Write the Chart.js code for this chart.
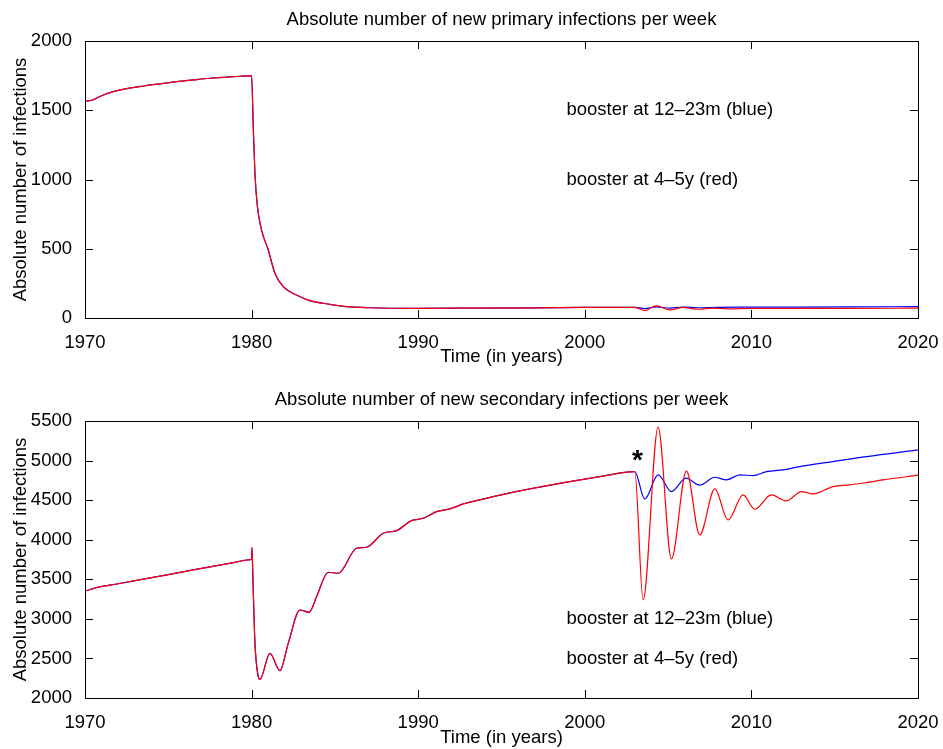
<!DOCTYPE html>
<html>
<head>
<meta charset="utf-8">
<title>Absolute number of new infections per week</title>
<script src="https://cdn.jsdelivr.net/npm/chart.js@4.4.0/dist/chart.umd.min.js"></script>
<style>
  html, body { margin: 0; padding: 0; background: #fff; }
  #page { position: relative; width: 943px; height: 749px; }
  .panel { position: absolute; left: 0; width: 943px; }
  #panel-primary { top: 0; height: 372px; }
  #panel-secondary { top: 372px; height: 377px; }
</style>
</head>
<body>
<div id="page">
  <div class="panel" id="panel-primary"><canvas id="primaryChart" width="943" height="372"></canvas></div>
  <div class="panel" id="panel-secondary"><canvas id="secondaryChart" width="943" height="377"></canvas></div>
</div>
<script>
const FONT = '"Liberation Sans", Arial, Helvetica, sans-serif';
const FONT_SIZE = 18.5;

// Tick labels
const yearTicks = [1970, 1980, 1990, 2000, 2010, 2020];
const primaryTicks = [0, 500, 1000, 1500, 2000];
const secondaryTicks = [2000, 2500, 3000, 3500, 4000, 4500, 5000, 5500];

// Primary infections, same for both schedules up to 2003
const primaryYears = [1970, 1970.4, 1971, 1971.7, 1972.5, 1973.5, 1974.5, 1975.5, 1976.5, 1977.5, 1978.7, 1979.5, 1980,
  1980.1, 1980.2, 1980.35, 1980.6, 1981, 1981.4, 1981.9, 1982.7, 1983.5, 1984.7, 1985.7, 1987.1, 1989.7,
  1993, 1997, 2000, 2003];
const primaryValues = [1566, 1572, 1605, 1634, 1656, 1675, 1691, 1706, 1719, 1731, 1741, 1746, 1750,
  1381, 1045, 804, 635, 491, 323, 226, 166, 125, 99, 82, 74, 70,
  71, 73, 76, 77];

// Primary infections after the 2003 change
const primaryBlueYears = [2003.6, 2004.3, 2005.1, 2005.9, 2006.8, 2008, 2010, 2013, 2016, 2020];
const primaryBlue = [68, 80, 72, 79, 74, 77, 78, 79, 80, 82];
const primaryRedYears = [2003.6, 2004.3, 2005.1, 2005.9, 2006.8, 2007.7, 2008.6, 2010, 2013, 2016, 2020];
const primaryRed = [53, 87, 58, 77, 63, 72, 66, 69, 70, 70, 71];

// Secondary infections, same for both schedules up to 2003
const secondaryYears = [1970, 1970.8, 1972, 1973.5, 1975, 1976.5, 1978, 1979, 1979.8, 1980, 1980.02, 1980.08,
  1980.2, 1980.38, 1980.5, 1981.1, 1981.7, 1982.2, 1982.9, 1983.46, 1983.9, 1984.6, 1985.2, 1986.3, 1986.9,
  1987.9, 1988.7, 1989.6, 1990.3, 1991.1, 1991.9, 1992.7, 1993.7, 1994.7, 1996.7, 2000.9, 2003];
const secondaryValues = [3350, 3400, 3444, 3502, 3560, 3618, 3676, 3714, 3745, 3753, 3900, 3500,
  2700, 2290, 2236, 2565, 2345, 2691, 3112, 3083, 3281, 3589, 3576, 3892, 3905,
  4082, 4115, 4241, 4271, 4355, 4389, 4452, 4503, 4553, 4642, 4797, 4860];

// Secondary infections after the 2003 change
const secondaryBlueYears = [2003.6, 2004.4, 2005.2, 2006.07, 2006.9, 2007.8, 2008.5, 2009.3, 2010.1, 2010.9,
  2011.9, 2012.9, 2014.9, 2016.9, 2020];
const secondaryBlue = [4515, 4819, 4608, 4777, 4690, 4789, 4756, 4819, 4810, 4861,
  4882, 4924, 4987, 5050, 5135];
const secondaryRedYears = [2003.5, 2004.4, 2005.2, 2006.1, 2006.9, 2007.8, 2008.6, 2009.5, 2010.2, 2011.2,
  2012.1, 2013, 2013.7, 2014.9, 2015.9, 2016.9, 2017.9, 2020];
const secondaryRed = [3239, 5422, 3757, 4869, 4060, 4642, 4250, 4566, 4385, 4566,
  4490, 4608, 4579, 4671, 4692, 4722, 4756, 4815];

function toPoints(xs, ys) {
  return xs.map((x, i) => ({ x: x, y: ys[i] }));
}

// Box around the axes, inward tick marks on all four sides, titles and notes
const panelFrame = {
  id: 'panelFrame',
  afterDraw(chart, args, opts) {
    const ctx = chart.ctx;
    const area = chart.chartArea;
    const xScale = chart.scales.x;
    const yScale = chart.scales.y;
    const tickLen = 8;

    ctx.save();
    ctx.strokeStyle = '#000';
    ctx.lineWidth = 1;
    ctx.beginPath();
    yearTicks.forEach(v => {
      const px = Math.round(xScale.getPixelForValue(v)) + 0.5;
      ctx.moveTo(px, area.bottom);
      ctx.lineTo(px, area.bottom - tickLen);
      ctx.moveTo(px, area.top);
      ctx.lineTo(px, area.top + tickLen);
    });
    opts.yTicks.forEach(v => {
      const py = Math.round(yScale.getPixelForValue(v)) + 0.5;
      ctx.moveTo(area.left, py);
      ctx.lineTo(area.left + tickLen, py);
      ctx.moveTo(area.right, py);
      ctx.lineTo(area.right - tickLen, py);
    });
    ctx.stroke();
    ctx.strokeRect(Math.round(area.left) + 0.5, Math.round(area.top) + 0.5,
      Math.round(area.right - area.left), Math.round(area.bottom - area.top));

    ctx.fillStyle = '#000';
    ctx.font = FONT_SIZE + 'px ' + FONT;
    ctx.textAlign = 'center';
    ctx.textBaseline = 'middle';
    ctx.fillText(opts.title, (area.left + area.right) / 2, area.top - 20.7);

    ctx.textAlign = 'left';
    opts.notes.forEach(n => {
      ctx.fillText(n.text, xScale.getPixelForValue(n.x), yScale.getPixelForValue(n.y));
    });

    if (opts.mark) {
      ctx.font = 'bold 28px ' + FONT;
      ctx.textAlign = 'center';
      ctx.textBaseline = 'alphabetic';
      const m = ctx.measureText('*');
      const cy = yScale.getPixelForValue(opts.mark.y) + (m.actualBoundingBoxAscent - m.actualBoundingBoxDescent) / 2;
      ctx.fillText('*', xScale.getPixelForValue(opts.mark.x), cy);
    }
    ctx.restore();
  }
};

function makeChart(canvasId, cfg) {
  const textFont = { family: FONT, size: FONT_SIZE };
  return new Chart(document.getElementById(canvasId).getContext('2d'), {
    type: 'line',
    data: {
      datasets: [
        { label: 'booster at 4–5y', data: cfg.red, borderColor: '#ff0000' },
        { label: 'booster at 12–23m', data: cfg.blue, borderColor: '#0000ff' }
      ]
    },
    options: {
      responsive: false,
      animation: false,
      layout: { padding: { top: cfg.top, right: 25, left: 0, bottom: 0 } },
      elements: {
        point: { radius: 0 },
        line: { borderWidth: 1.2, cubicInterpolationMode: 'monotone', fill: false }
      },
      plugins: {
        legend: { display: false },
        tooltip: { enabled: false },
        panelFrame: { title: cfg.title, notes: cfg.notes, mark: cfg.mark, yTicks: cfg.yTicks }
      },
      scales: {
        x: {
          type: 'linear',
          min: 1970,
          max: 2020,
          afterBuildTicks: s => { s.ticks = yearTicks.map(v => ({ value: v })); },
          afterFit: s => { s.height = cfg.xHeight; s.paddingLeft = 0; s.paddingRight = 0; },
          grid: { display: false },
          border: { display: false },
          ticks: { color: '#000', font: textFont, padding: 6, maxRotation: 0, autoSkip: false, callback: v => String(v) },
          title: { display: true, text: 'Time (in years)', color: '#000', font: textFont, padding: { top: 0, bottom: cfg.xTitlePad } }
        },
        y: {
          type: 'linear',
          min: cfg.yTicks[0],
          max: cfg.yTicks[cfg.yTicks.length - 1],
          afterBuildTicks: s => { s.ticks = cfg.yTicks.map(v => ({ value: v })); },
          afterFit: s => { s.width = 85; },
          grid: { display: false },
          border: { display: false },
          ticks: { color: '#000', font: textFont, padding: 5, callback: v => String(v) },
          title: { display: true, text: 'Absolute number of infections', color: '#000', font: textFont, padding: { top: 10, bottom: 0 } }
        }
      }
    },
    plugins: [panelFrame]
  });
}

const primaryChart = makeChart('primaryChart', {
  top: 41,
  xHeight: 54,
  xTitlePad: 4,
  yTicks: primaryTicks,
  title: 'Absolute number of new primary infections per week',
  blue: toPoints(primaryYears, primaryValues).concat(toPoints(primaryBlueYears, primaryBlue)),
  red: toPoints(primaryYears, primaryValues).concat(toPoints(primaryRedYears, primaryRed)),
  notes: [
    { x: 1998.9, y: 1500, text: 'booster at 12–23m (blue)' },
    { x: 1998.9, y: 1000, text: 'booster at 4–5y (red)' }
  ],
  mark: null
});

const secondaryChart = makeChart('secondaryChart', {
  top: 49,
  xHeight: 51,
  xTitlePad: 0,
  yTicks: secondaryTicks,
  title: 'Absolute number of new secondary infections per week',
  blue: toPoints(secondaryYears, secondaryValues).concat(toPoints(secondaryBlueYears, secondaryBlue)),
  red: toPoints(secondaryYears, secondaryValues).concat(toPoints(secondaryRedYears, secondaryRed)),
  notes: [
    { x: 1998.9, y: 3000, text: 'booster at 12–23m (blue)' },
    { x: 1998.9, y: 2500, text: 'booster at 4–5y (red)' }
  ],
  mark: { x: 2003.16, y: 5068 }
});
</script>
</body>
</html>
